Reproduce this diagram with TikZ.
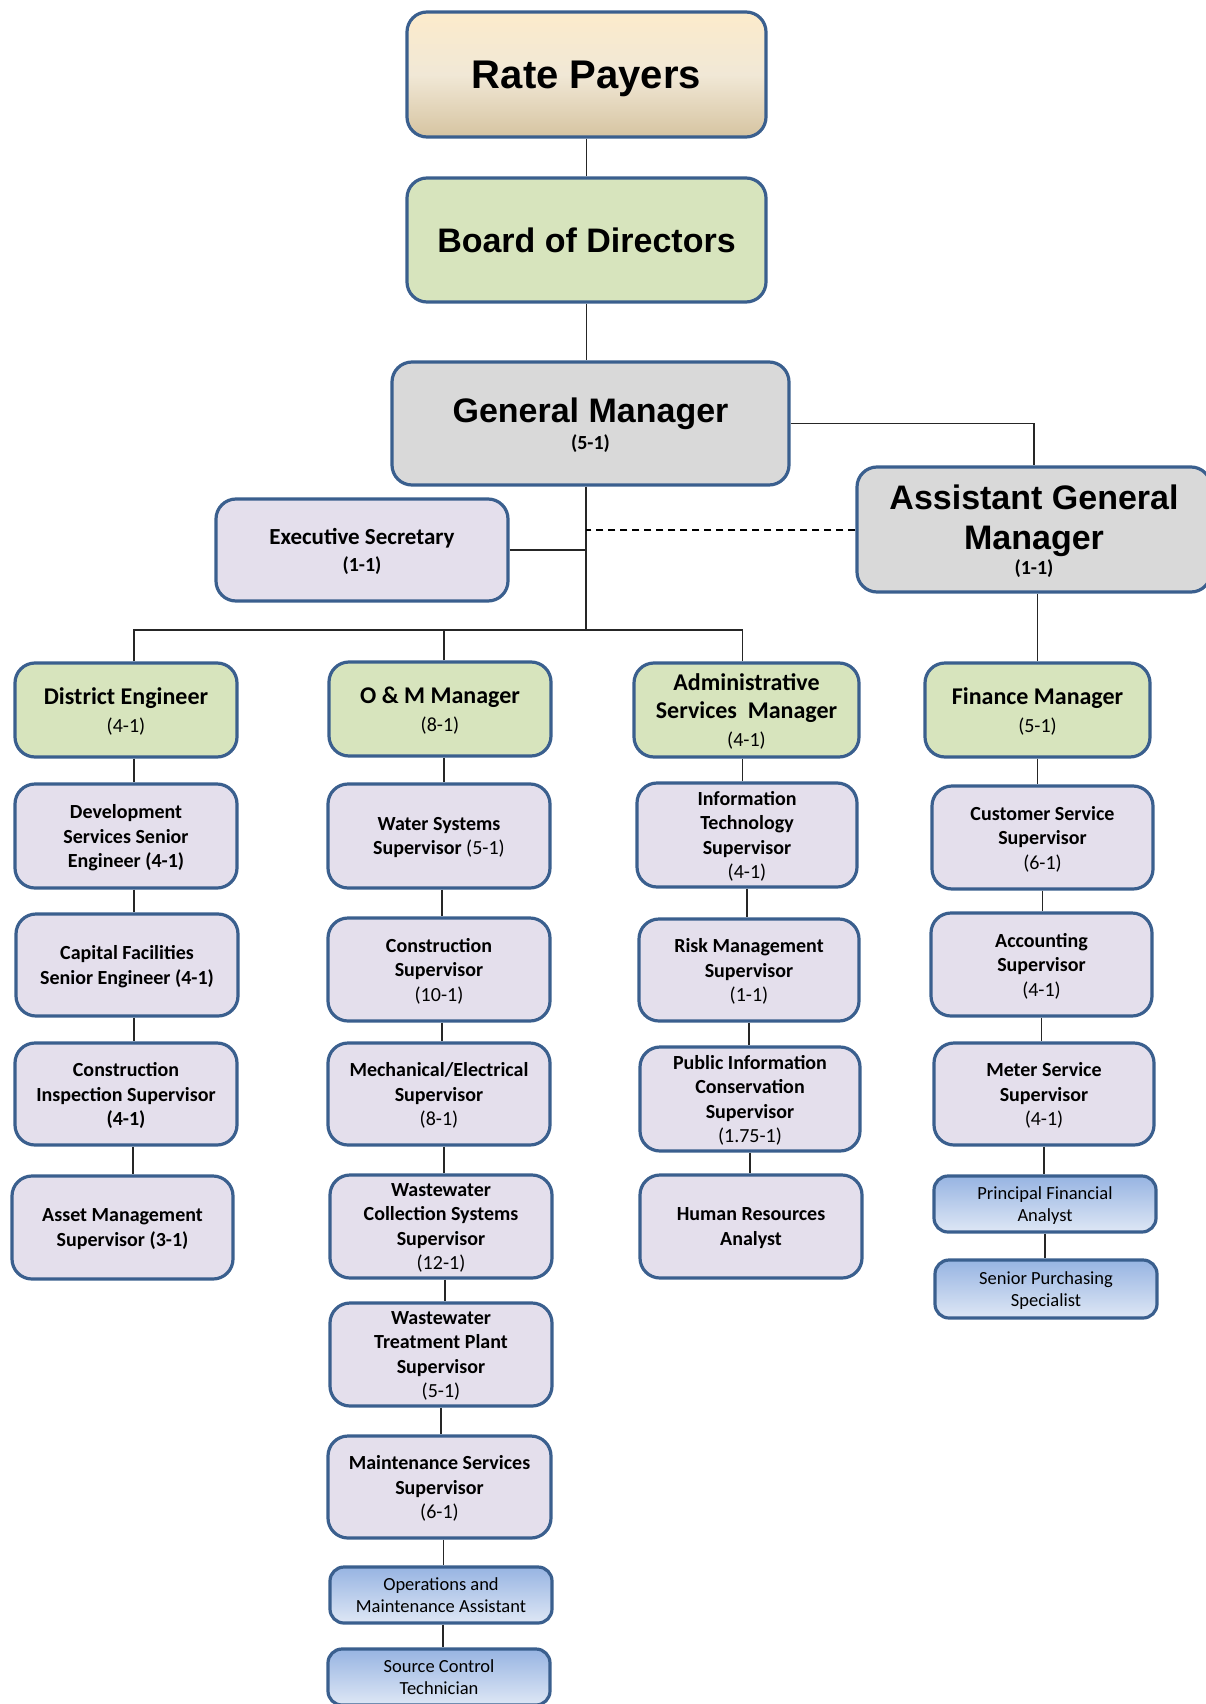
\documentclass[tikz,border=0pt]{standalone}
\usepackage{fontspec}
\setmainfont{Carlito}
\newfontfamily\headfont{Liberation Sans}
\usetikzlibrary{positioning, calc}

\definecolor{boxBorder}{HTML}{3A5F8E}
\definecolor{payerTop}{HTML}{FCEBCB}
\definecolor{payerMid}{HTML}{F1E8D6}
\definecolor{payerBottom}{HTML}{D6C4A1}
\definecolor{boardGreen}{HTML}{D7E4BD}
\definecolor{managerGray}{HTML}{D9D9D9}
\definecolor{staffLilac}{HTML}{E4DFEC}
\definecolor{assistTop}{HTML}{97B4E2}
\definecolor{assistBottom}{HTML}{DEE7F5}

\tikzset{
	orgBox/.style={draw=boxBorder, line width=3.2pt, rounded corners=20pt, align=center, inner sep=0pt, text depth=0pt},
	headBox/.style={orgBox, font=\headfont\bfseries\fontsize{34}{40}\selectfont},
	chiefBox/.style={orgBox, fill=boardGreen, font=\bfseries\fontsize{24}{28}\selectfont},
	staffBox/.style={orgBox, fill=staffLilac, font=\bfseries\fontsize{20}{24.5}\selectfont},
	assistBox/.style={orgBox, rounded corners=14pt, top color=assistTop, bottom color=assistBottom, shading=axis, font=\fontsize{18.5}{21.5}\selectfont},
	link/.style={line width=1.4pt, black!85}
}

\begin{document}
\begin{tikzpicture}[x=1pt, y=-1pt]
		
		\useasboundingbox (0,0) rectangle (1206,1704);
		
		%Rate payers and board
		\node (ratePayers) at(586.5,74.5) [headBox, top color=payerTop, bottom color=payerBottom, 
		middle color=payerMid, shading=axis, minimum width=359pt, minimum height=125pt, 
		font=\headfont\bfseries\fontsize{40}{44}\selectfont]{Rate Payers};
		\node (board) at(586.5,240) [headBox, fill=boardGreen, minimum width=359pt, minimum height=124pt]{Board of Directors};
		
		%Managers
		\node (generalManager) at(590.5,423.5) [headBox, fill=managerGray, minimum width=397pt, 
		minimum height=123pt]{General Manager\\[-13pt]{\normalfont\bfseries\fontsize{20}{24}\selectfont (5-1)}};
		\node (assistantGM) at(1034,529.5) [headBox, fill=managerGray, minimum width=354pt, 
		minimum height=125pt]{Assistant General\\Manager\\[-15pt]{\normalfont\bfseries\fontsize{20}{24}\selectfont (1-1)}};
		\node (execSecretary) at(362,550) [staffBox, minimum width=292pt, minimum height=102pt, 
		font=\bfseries\fontsize{23}{27}\selectfont]{Executive Secretary\\{\fontsize{20}{24}\selectfont (1-1)}};
		
		%Department heads
		\node (districtEngineer) at(126,710) [chiefBox, minimum width=222pt, minimum height=94pt]{District Engineer\\{\mdseries\fontsize{20}{28}\selectfont (4-1)}};
		\node (omManager) at(440,709) [chiefBox, minimum width=222pt, minimum height=94pt]{O \& M Manager\\{\mdseries\fontsize{20}{28}\selectfont (8-1)}};
		\node (adminManager) at(746.5,710) [chiefBox, minimum width=225pt, minimum height=94pt]{Administrative\\Services~~Manager\\{\mdseries\fontsize{20}{28}\selectfont (4-1)}};
		\node (financeManager) at(1037.5,710) [chiefBox, minimum width=225pt, minimum height=94pt]{Finance Manager\\{\mdseries\fontsize{20}{28}\selectfont (5-1)}};
		
		%District engineer column
		\node (devEngineer) at(126,836) [staffBox, minimum width=222pt, minimum height=104pt]{Development\\Services Senior\\Engineer (4-1)};
		\node (capitalEngineer) at(127,965) [staffBox, minimum width=222pt, minimum height=102pt]{Capital Facilities\\Senior Engineer (4-1)};
		\node (inspectionSup) at(126,1094) [staffBox, minimum width=222pt, minimum height=102pt]{Construction\\Inspection Supervisor\\(4-1)};
		\node (assetSup) at(122.5,1227.5) [staffBox, minimum width=221pt, minimum height=103pt]{Asset Management\\Supervisor (3-1)};
		
		%O & M column
		\node (waterSup) at(439,836) [staffBox, minimum width=222pt, minimum height=104pt]{Water Systems\\Supervisor {\mdseries (5-1)}};
		\node (constructionSup) at(439,969.5) [staffBox, minimum width=222pt, minimum height=103pt]{Construction\\Supervisor\\{\mdseries (10-1)}};
		\node (mechSup) at(439,1094) [staffBox, minimum width=222pt, minimum height=102pt]{Mechanical/Electrical\\Supervisor\\{\mdseries (8-1)}};
		\node (collectionSup) at(441,1226.5) [staffBox, minimum width=222pt, minimum height=103pt]{Wastewater\\Collection Systems\\Supervisor\\{\mdseries (12-1)}};
		\node (treatmentSup) at(441,1354.5) [staffBox, minimum width=222pt, minimum height=103pt]{Wastewater\\Treatment Plant\\Supervisor\\{\mdseries (5-1)}};
		\node (maintenanceSup) at(439.5,1487) [staffBox, minimum width=223pt, minimum height=102pt]{Maintenance Services\\Supervisor\\{\mdseries (6-1)}};
		\node (omAssistant) at(441,1595) [assistBox, minimum width=222pt, minimum height=56pt]{Operations and\\Maintenance Assistant};
		\node (sourceTech) at(439,1677) [assistBox, minimum width=222pt, minimum height=56pt]{Source Control\\Technician};
		
		%Administrative column
		\node (itSup) at(747,835) [staffBox, minimum width=220pt, minimum height=104pt]{Information\\Technology\\Supervisor\\{\mdseries (4-1)}};
		\node (riskSup) at(749,970) [staffBox, minimum width=220pt, minimum height=102pt]{Risk Management\\Supervisor\\{\mdseries (1-1)}};
		\node (publicInfoSup) at(750,1099) [staffBox, minimum width=220pt, minimum height=104pt]{Public Information\\Conservation\\Supervisor\\{\mdseries (1.75-1)}};
		\node (hrAnalyst) at(751,1226.5) [staffBox, minimum width=222pt, minimum height=103pt]{Human Resources\\Analyst};
		
		%Finance column
		\node (customerSup) at(1042.5,837.5) [staffBox, minimum width=221pt, minimum height=103pt]{Customer Service\\Supervisor\\{\mdseries (6-1)}};
		\node (accountingSup) at(1041.5,964.5) [staffBox, minimum width=221pt, minimum height=103pt]{Accounting\\Supervisor\\{\mdseries (4-1)}};
		\node (meterSup) at(1044,1094) [staffBox, minimum width=220pt, minimum height=102pt]{Meter Service\\Supervisor\\{\mdseries (4-1)}};
		\node (financialAnalyst) at(1045,1204) [assistBox, minimum width=222pt, minimum height=56pt]{Principal Financial\\Analyst};
		\node (purchasingSpec) at(1046,1289) [assistBox, minimum width=222pt, minimum height=58pt]{Senior Purchasing\\Specialist};
		
		%Trunk and bus
		\coordinate (bus) at(586,630);
		\draw[link] (ratePayers) -- (board);
		\draw[link] (board.south) -- (board.south |- generalManager.north);
		\draw[link] (generalManager.south -| bus) -- (bus);
		\draw[link] (generalManager.east) -| (assistantGM.north);
		\draw[link] (execSecretary.east) -- (execSecretary.east -| bus);
		\draw[link, black, dash pattern=on 7pt off 5pt, line width=2pt] (assistantGM.west) -- (assistantGM.west -| bus);
		\draw[link] ([xshift=8pt]districtEngineer.north) |- (bus) -| ([xshift=-4pt]adminManager.north);
		\draw[link] ([xshift=4pt]omManager.north) -- ([xshift=4pt]omManager.north |- bus);
		\draw[link] (assistantGM.south -| financeManager.north) -- (financeManager.north);
		
		%Column links
		\draw[link] ([xshift=8pt]districtEngineer.south) -- ([xshift=8pt]districtEngineer.south |- devEngineer.north);
		\draw[link] ([xshift=8pt]devEngineer.south) -- ([xshift=8pt]devEngineer.south |- capitalEngineer.north);
		\draw[link] ([xshift=7pt]capitalEngineer.south) -- ([xshift=7pt]capitalEngineer.south |- inspectionSup.north);
		\draw[link] ([xshift=7pt]inspectionSup.south) -- ([xshift=7pt]inspectionSup.south |- assetSup.north);
		
		\draw[link] ([xshift=4pt]omManager.south) -- ([xshift=4pt]omManager.south |- waterSup.north);
		\draw[link] ([xshift=3pt]waterSup.south) -- ([xshift=3pt]waterSup.south |- constructionSup.north);
		\draw[link] ([xshift=3pt]constructionSup.south) -- ([xshift=3pt]constructionSup.south |- mechSup.north);
		\draw[link] ([xshift=5pt]mechSup.south) -- ([xshift=5pt]mechSup.south |- collectionSup.north);
		\draw[link] ([xshift=4pt]collectionSup.south) -- ([xshift=4pt]collectionSup.south |- treatmentSup.north);
		\draw[link] (treatmentSup.south) -- (treatmentSup.south |- maintenanceSup.north);
		\draw[link] ([xshift=4pt]maintenanceSup.south) -- ([xshift=4pt]maintenanceSup.south |- omAssistant.north);
		\draw[link] ([xshift=2pt]omAssistant.south) -- ([xshift=2pt]omAssistant.south |- sourceTech.north);
		
		\draw[link] ([xshift=-4pt]adminManager.south) -- ([xshift=-4pt]adminManager.south |- itSup.north);
		\draw[link] (itSup.south) -- (itSup.south |- riskSup.north);
		\draw[link] (riskSup.south) -- (riskSup.south |- publicInfoSup.north);
		\draw[link] (publicInfoSup.south) -- (publicInfoSup.south |- hrAnalyst.north);
		
		\draw[link] (financeManager.south) -- (financeManager.south |- customerSup.north);
		\draw[link] (customerSup.south) -- (customerSup.south |- accountingSup.north);
		\draw[link] (accountingSup.south) -- (accountingSup.south |- meterSup.north);
		\draw[link] (meterSup.south) -- (meterSup.south |- financialAnalyst.north);
		\draw[link] (financialAnalyst.south) -- (financialAnalyst.south |- purchasingSpec.north);
		
\end{tikzpicture}
\end{document}
